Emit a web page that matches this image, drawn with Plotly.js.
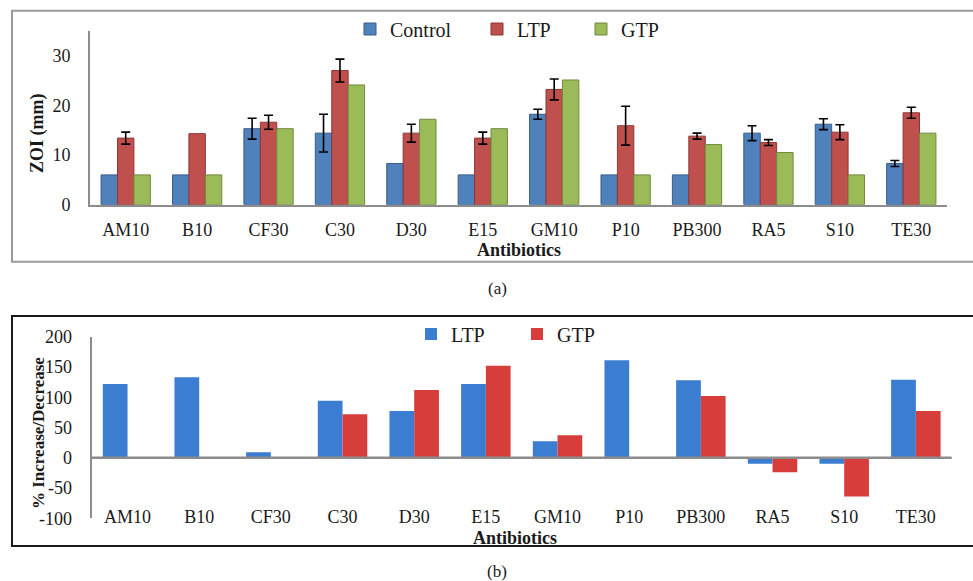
<!DOCTYPE html>
<html>
<head>
<meta charset="utf-8">
<script src="https://cdn.plot.ly/plotly-3.0.1.min.js"></script>
<style>html,body{margin:0;padding:0;background:#fff;}#chart{width:973px;height:581px;}</style>
</head>
<body>
<div id="chart"></div>
<script>
// ---------- data ----------
const categories = ['AM10','B10','CF30','C30','D30','E15','GM10','P10','PB300','RA5','S10','TE30'];

// Panel (a): zone of inhibition (mm)
const zoiControl    = [6, 6, 15.3, 14.4, 8.3, 6, 18.2, 6, 6, 14.4, 16.2, 8.3];
const zoiControlErr = [NaN, NaN, 2.1, 3.8, NaN, NaN, 1.0, NaN, NaN, 1.5, 1.1, 0.6];
const zoiLTP        = [13.4, 14.3, 16.6, 27.0, 14.4, 13.4, 23.2, 15.9, 13.8, 12.5, 14.6, 18.5];
const zoiLTPErr     = [1.2, NaN, 1.4, 2.3, 1.8, 1.2, 2.1, 3.9, 0.6, 0.6, 1.5, 1.1];
const zoiGTP        = [6, 6, 15.3, 24.1, 17.2, 15.3, 25.1, 6, 12.1, 10.5, 6, 14.4];

// Panel (b): % increase / decrease
const pctLTP = [122, 133, 9, 94, 77, 122, 27, 161, 128, -10, -10, 129];
const pctGTP = [0, 0, 0, 72, 112, 152, 37, 0, 102, -24, -64, 77];

const yTicksA = [0, 10, 20, 30];
const yTicksB = [-100, -50, 0, 50, 100, 150, 200];

// ---------- layout helpers ----------
const W = 973, H = 581;
const px = x => x / W;
const py = y => 1 - y / H;
const SERIF = '"Liberation Serif", "Times New Roman", serif';
const TXT = '#1a1a1a';

const errStyle = arr => ({type: 'data', array: arr, visible: true, color: '#000', thickness: 1.6, width: 4.5});

const traces = [
  {type: 'bar', name: 'Control', x: categories, y: zoiControl, xaxis: 'x', yaxis: 'y', legend: 'legend',
   marker: {color: '#4f81bd', line: {color: '#385d8a', width: 1}}, error_y: errStyle(zoiControlErr)},
  {type: 'bar', name: 'LTP', x: categories, y: zoiLTP, xaxis: 'x', yaxis: 'y', legend: 'legend2',
   marker: {color: '#c0504d', line: {color: '#8c3836', width: 1}}, error_y: errStyle(zoiLTPErr)},
  {type: 'bar', name: 'GTP', x: categories, y: zoiGTP, xaxis: 'x', yaxis: 'y', legend: 'legend3',
   marker: {color: '#9bbb59', line: {color: '#71893f', width: 1}}},
  {type: 'bar', name: 'LTP', x: categories, y: pctLTP, xaxis: 'x2', yaxis: 'y2', legend: 'legend4',
   marker: {color: '#3b7dd0', line: {color: '#2a5c9c', width: 0}}},
  {type: 'bar', name: 'GTP', x: categories, y: pctGTP, xaxis: 'x2', yaxis: 'y2', legend: 'legend5',
   marker: {color: '#d63d3b', line: {color: '#9c2a28', width: 0}}}
];

const legendBase = (x, y) => ({
  x: px(x), y: py(y), xanchor: 'left', yanchor: 'middle', orientation: 'h',
  bgcolor: 'rgba(0,0,0,0)', borderwidth: 0,
  font: {family: SERIF, size: 20, color: TXT}
});

const layout = {
  width: W, height: H,
  margin: {l: 0, r: 0, t: 0, b: 0},
  paper_bgcolor: '#fff', plot_bgcolor: 'rgba(0,0,0,0)',
  barmode: 'group',
  bargap: 0.31, bargroupgap: 0,
  font: {family: SERIF, color: TXT},
  showlegend: true,
  legend: legendBase(350, 29),
  legend2: legendBase(477, 29),
  legend3: legendBase(581, 29),
  legend4: legendBase(411, 334),
  legend5: legendBase(517, 334),
  xaxis: {
    domain: [px(90), px(947)], anchor: 'y',
    type: 'category', categoryorder: 'array', categoryarray: categories,
    showline: true, linecolor: '#8c8c8c', linewidth: 2,
    showgrid: false, zeroline: false, ticks: '',
    tickfont: {family: SERIF, size: 18, color: TXT},
    ticklabelstandoff: 8
  },
  yaxis: {
    domain: [py(204.7), py(30.8)], anchor: 'x',
    range: [0, 35], tickvals: yTicksA, ticktext: yTicksA.map(String),
    showline: true, linecolor: '#8c8c8c', linewidth: 2,
    showgrid: false, zeroline: false, ticks: '',
    tickfont: {family: SERIF, size: 18, color: TXT},
    ticklabelstandoff: 14
  },
  xaxis2: {
    domain: [px(91.7), px(951.7)], anchor: 'free', position: py(504),
    type: 'category', categoryorder: 'array', categoryarray: categories,
    showline: false, showgrid: false, zeroline: false, ticks: '',
    tickfont: {family: SERIF, size: 18, color: TXT}
  },
  yaxis2: {
    domain: [py(518.2), py(336.7)], anchor: 'x2',
    range: [-100, 200], tickvals: yTicksB, ticktext: yTicksB.map(String),
    showline: true, linecolor: '#8c8c8c', linewidth: 2,
    showgrid: false, zeroline: false,
    ticks: '',
    tickfont: {family: SERIF, size: 18, color: TXT},
    ticklabelstandoff: 14
  },
  shapes: [
    {type: 'rect', xref: 'paper', yref: 'paper', x0: px(12), x1: px(1000), y0: py(261.7), y1: py(10.7),
     line: {color: '#9a9a9a', width: 2}, fillcolor: 'rgba(0,0,0,0)', layer: 'below'},
    {type: 'rect', xref: 'paper', yref: 'paper', x0: px(12), x1: px(1000), y0: py(546), y1: py(316),
     line: {color: '#1a1a1a', width: 2}, fillcolor: 'rgba(0,0,0,0)', layer: 'below'},
    // zero reference line of panel (b), drawn over the bars as in the original
    {type: 'line', xref: 'paper', yref: 'y2', x0: px(91.7), x1: px(951.7), y0: 0, y1: 0,
     line: {color: '#8c8c8c', width: 2.5}, layer: 'above'}
  ],
  annotations: [
    {text: '<b>ZOI (mm)</b>', xref: 'paper', yref: 'paper', x: px(38), y: py(133), textangle: -90,
     showarrow: false, xanchor: 'center', yanchor: 'middle', font: {family: SERIF, size: 18, color: TXT}},
    {text: '<b>Antibiotics</b>', xref: 'paper', yref: 'paper', x: px(519), y: py(250),
     showarrow: false, xanchor: 'center', yanchor: 'middle', font: {family: SERIF, size: 18, color: TXT}},
    {text: '(a)', xref: 'paper', yref: 'paper', x: px(497), y: py(288),
     showarrow: false, xanchor: 'center', yanchor: 'middle', font: {family: SERIF, size: 17, color: TXT}},
    {text: '<b>% Increase/Decrease</b>', xref: 'paper', yref: 'paper', x: px(38), y: py(433), textangle: -90,
     showarrow: false, xanchor: 'center', yanchor: 'middle', font: {family: SERIF, size: 17, color: TXT}},
    {text: '<b>Antibiotics</b>', xref: 'paper', yref: 'paper', x: px(515), y: py(538),
     showarrow: false, xanchor: 'center', yanchor: 'middle', font: {family: SERIF, size: 18, color: TXT}},
    {text: '(b)', xref: 'paper', yref: 'paper', x: px(497), y: py(571),
     showarrow: false, xanchor: 'center', yanchor: 'middle', font: {family: SERIF, size: 17, color: TXT}}
  ]
};

Plotly.newPlot('chart', traces, layout, {displayModeBar: false, staticPlot: true});
</script>
</body>
</html>
